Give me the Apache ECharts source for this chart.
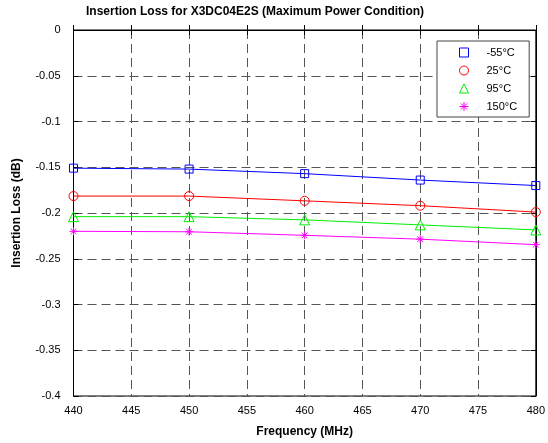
<!DOCTYPE html>
<html>
<head>
<meta charset="utf-8">
<script src="https://cdn.jsdelivr.net/npm/echarts@6/dist/echarts.min.js"></script>
<style>
  html, body { margin: 0; padding: 0; background: #fff; }
  #chart { width: 548px; height: 443px; }
</style>
</head>
<body>
<div id="chart"></div>
<script>
// frequency points (MHz)
var freq = [440, 450, 460, 470, 480];
// insertion loss (dB) per temperature
var lossM55 = [-0.151, -0.152, -0.157, -0.164, -0.170];
var loss25 = [-0.1815, -0.1815, -0.1867, -0.192, -0.199];
var loss95 = [-0.204, -0.204, -0.2075, -0.213, -0.2185];
var loss150 = [-0.220, -0.2205, -0.2244, -0.2286, -0.2346];
var seriesNames = ["-55°C", "25°C", "95°C", "150°C"];

var asterisk = "path://M5,0L5,10M0,5L10,5M1.5,1.5L8.5,8.5M1.5,8.5L8.5,1.5";

function pairs(vals) {
  return freq.map(function (f, i) { return [f, vals[i]]; });
}

function makeSeries(name, vals, color, symbol, size) {
  return {
    name: name,
    type: "line",
    data: pairs(vals),
    symbol: symbol,
    symbolSize: size,
    lineStyle: { color: color, width: 1 },
    itemStyle: { color: "rgba(0,0,0,0)", borderColor: color, borderWidth: 1 },
    emphasis: { disabled: true },
  };
}

var font = "Liberation Sans, Arial, sans-serif";
var myChart = echarts.init(document.getElementById("chart"));
var option = {
  animation: false,
  backgroundColor: "#fff",
  title: {
    text: "Insertion Loss for X3DC04E2S (Maximum Power Condition)",
    left: 86,
    top: 6,
    padding: 0,
    textStyle: { fontFamily: font, fontSize: 12, fontWeight: "bold", color: "#000" },
  },
  legend: {
    orient: "vertical",
    left: 437,
    top: 41,
    padding: [6, 12, 5, 22],
    itemGap: 7,
    itemWidth: 9,
    itemHeight: 9,
    backgroundColor: "#fff",
    borderColor: "#444",
    borderWidth: 1,
    itemStyle: { borderWidth: 1 },
    textStyle: { fontFamily: font, fontSize: 11, color: "#000", padding: [0, 0, 0, 13] },
    data: [
      { name: seriesNames[0], icon: "rect" },
      { name: seriesNames[1], icon: "circle" },
      { name: seriesNames[2], icon: "triangle" },
      { name: seriesNames[3], icon: asterisk },
    ],
  },
  grid: {
    left: 73.5,
    right: 5.5,
    top: 30,
    bottom: 47,
    show: true,
    borderColor: "#000",
    borderWidth: 1,
  },
  xAxis: [
    {
      type: "value",
      min: 440,
      max: 480,
      interval: 5,
      name: "Frequency (MHz)",
      nameLocation: "middle",
      nameGap: 30,
      nameTextStyle: { fontFamily: font, fontSize: 12, fontWeight: "bold", color: "#000" },
      axisLabel: { fontFamily: font, fontSize: 11, color: "#000", margin: 9 },
      axisLine: { lineStyle: { color: "#000", width: 1 } },
      axisTick: { inside: true, length: 5, lineStyle: { color: "#000" } },
      splitLine: { show: true, lineStyle: { color: "#555", type: [9, 5], width: 1 } },
    },
    {
      type: "value",
      position: "top",
      min: 440,
      max: 480,
      interval: 5,
      axisLabel: { show: false },
      axisLine: { lineStyle: { color: "#000", width: 1 } },
      axisTick: { inside: true, length: 5, lineStyle: { color: "#000" } },
      splitLine: { show: false },
    },
  ],
  yAxis: [
    {
      type: "value",
      min: -0.4,
      max: 0,
      interval: 0.05,
      name: "Insertion Loss (dB)",
      nameLocation: "middle",
      nameGap: 51,
      nameTextStyle: { fontFamily: font, fontSize: 12, fontWeight: "bold", color: "#000" },
      axisLabel: {
        fontFamily: font,
        fontSize: 11,
        color: "#000",
        margin: 13,
        formatter: function (v) { return String(parseFloat(v.toFixed(2))); },
      },
      axisLine: { lineStyle: { color: "#000", width: 1 } },
      axisTick: { inside: true, length: 5, lineStyle: { color: "#000" } },
      splitLine: { show: true, lineStyle: { color: "#555", type: [9, 5], width: 1 } },
    },
    {
      type: "value",
      position: "right",
      min: -0.4,
      max: 0,
      interval: 0.05,
      axisLabel: { show: false },
      axisLine: { lineStyle: { color: "#000", width: 1 } },
      axisTick: { inside: true, length: 5, lineStyle: { color: "#000" } },
      splitLine: { show: false },
    },
  ],
  series: [
    makeSeries(seriesNames[0], lossM55, "#0000ff", "rect", 8),
    makeSeries(seriesNames[1], loss25, "#ff0000", "circle", 9),
    makeSeries(seriesNames[2], loss95, "#00ee00", "triangle", 10),
    makeSeries(seriesNames[3], loss150, "#ff00ff", asterisk, 8),
  ],
};
myChart.setOption(option);
window.addEventListener("resize", function () {
  myChart.resize();
});
</script>
</body>
</html>
